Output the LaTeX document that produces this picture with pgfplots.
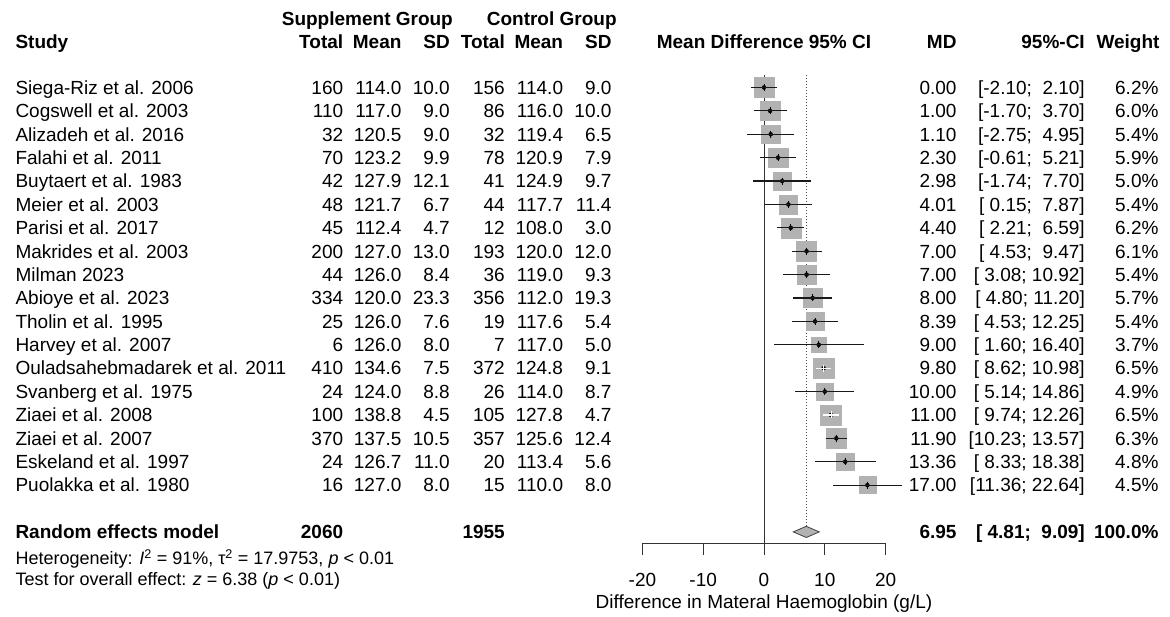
\documentclass[border=0pt]{standalone}
\usepackage{pgfplots}
\pgfplotsset{compat=1.18}
\usepackage{pgfplotstable}
\usepackage{fontspec}
\setmainfont{Liberation Sans}
\definecolor{boxgray}{RGB}{178,178,178}
\newcommand\fs{\fontsize{19}{23}\selectfont}
\newcommand\fsh{\fontsize{18}{21}\selectfont}
% text at pixel x (#2), row r (#3)
\newcommand\TR[3]{\node[anchor=base east, font=\fs] at (axis cs:{(#1-764)/6.08},{#2+0.2907}) {#3};}
\newcommand\TL[3]{\node[anchor=base west, font=\fs] at (axis cs:{(#1-764)/6.08},{#2+0.2907}) {#3};}
% text at pixel x, pixel center y
\newcommand\TP[4]{\node[anchor=#1, font=\fs] at (axis cs:{(#2-764)/6.08},{1+(#3+6.8-87.5)/23.39}) {#4};}
\newcommand\StudyRow[9]{\TL{12}{#1}{#2}\TR{346.7}{#1}{#3}\TR{405}{#1}{#4}\TR{453.3}{#1}{#5}\TR{508.3}{#1}{#6}\TR{566.6}{#1}{#7}\TR{615}{#1}{#8}\TR{960}{#1}{#9}}
\newcommand\StatRow[3]{\TR{1088.3}{#1}{#2}\TR{1162}{#1}{#3}}

\pgfplotstableread{
r md lo hi w c
1 0.00 -2.10 2.10 6.2 0
2 1.00 -1.70 3.70 6.0 0
3 1.10 -2.75 4.95 5.4 0
4 2.30 -0.61 5.21 5.9 0
5 2.98 -1.74 7.70 5.0 0
6 4.01 0.15 7.87 5.4 0
7 4.40 2.21 6.59 6.2 0
8 7.00 4.53 9.47 6.1 0
9 7.00 3.08 10.92 5.4 0
10 8.00 4.80 11.20 5.7 0
11 8.39 4.53 12.25 5.4 0
12 9.00 1.60 16.40 3.7 0
13 9.80 8.62 10.98 6.5 1
14 10.00 5.14 14.86 4.9 0
15 11.00 9.74 12.26 6.5 1
16 11.90 10.23 13.57 6.3 0
17 13.36 8.33 18.38 4.8 0
18 17.00 11.36 22.64 4.5 0
}\studies

\begin{document}
\begin{tikzpicture}[font=\fs]
\begin{axis}[
  scale only axis, width=1170pt, height=617pt,
  at={(0,0)}, anchor=south west,
  xmin=-125.6579, xmax=66.7763,
  ymin=-2.7409, ymax=23.6381, y dir=reverse,
  hide axis, clip=false, set layers,
  every node/.append style={inner sep=0pt, outer sep=0pt},
]
% reference lines
\addplot[black!80, line width=1pt] coordinates {(0,0.4656) (0,20.487)};
\addplot[black!70, line width=1pt, dash pattern=on 1pt off 2pt] coordinates {(6.95,0.4656) (6.95,19.76)};
% boxes
\addplot[scatter, only marks, mark=square*,
  scatter/use mapped color={draw=boxgray, fill=boxgray},
  visualization depends on={4*sqrt(\thisrow{w}) \as \ms},
  scatter/@pre marker code/.append style={/tikz/mark size=\ms}]
  table[x=md, y=r] {\studies};
% confidence intervals (black)
\addplot[on layer=axis foreground, only marks, mark=none,
  x filter/.expression={\thisrow{c}==0 ? x : nan},
  error bars/.cd, x dir=both, x explicit, error mark=none,
  error bar style={line width=1.2pt, black!90}]
  table[x=md, y=r, x error plus expr=\thisrow{hi}-\thisrow{md}, x error minus expr=\thisrow{md}-\thisrow{lo}] {\studies};
% confidence intervals (white, inside box)
\addplot[on layer=axis foreground, only marks, mark=none,
  x filter/.expression={\thisrow{c}==1 ? x : nan},
  error bars/.cd, x dir=both, x explicit, error mark=none,
  error bar style={line width=1.2pt, white}]
  table[x=md, y=r, x error plus expr=\thisrow{hi}-\thisrow{md}, x error minus expr=\thisrow{md}-\thisrow{lo}] {\studies};
% estimate ticks
\addplot[on layer=axis foreground, only marks, mark=|, mark size=3.5, mark options={line width=0.7pt, black},
  x filter/.expression={\thisrow{c}==0 ? x : nan}] table[x=md, y=r] {\studies};
\addplot[on layer=axis foreground, only marks, mark=|, mark size=3.5, mark options={line width=0.7pt, white},
  x filter/.expression={\thisrow{c}==1 ? x : nan}] table[x=md, y=r] {\studies};
% summary diamond
\addplot[fill=boxgray, draw=black!75, line width=0.8pt] coordinates {(4.81,20) (6.95,19.7606) (9.09,20) (6.95,20.2394)} -- cycle;
% forest x axis
\draw[black!80, line width=1pt] (axis cs:-20,20.487) -- (axis cs:20,20.487);
\pgfplotsinvokeforeach{-20,-10,0,10,20}{
  \draw[black!80, line width=1pt] (axis cs:#1,20.487) -- (axis cs:#1,20.987);
  \node[anchor=base, font=\fs] at (axis cs:#1,{1+(579.5+6.8-87.5)/23.39}) {#1};
}
\TP{base}{764}{601.5}{Difference in Materal Haemoglobin (g/L)}
% headers
\TP{base west}{278.3}{18.3}{\bfseries Supplement Group}
\TP{base west}{483.3}{18.3}{\bfseries Control Group}
\TP{base west}{12}{41.7}{\bfseries Study}
\TP{base east}{346.7}{41.7}{\bfseries Total}
\TP{base east}{405}{41.7}{\bfseries Mean}
\TP{base east}{453.3}{41.7}{\bfseries SD}
\TP{base east}{508.3}{41.7}{\bfseries Total}
\TP{base east}{566.6}{41.7}{\bfseries Mean}
\TP{base east}{615}{41.7}{\bfseries SD}
\TP{base}{764}{41.7}{\bfseries Mean Difference 95\% CI}
\TP{base east}{960}{41.7}{\bfseries MD}
\TP{base east}{1088.3}{41.7}{\bfseries 95\%-CI}
\TP{base east}{1163}{41.7}{\bfseries Weight}
% study rows
\StudyRow{1}{Siega-Riz et al. 2006}{160}{114.0}{10.0}{156}{114.0}{9.0}{0.00}\StatRow{1}{[-2.10;\ \ 2.10]}{6.2\%}
\StudyRow{2}{Cogswell et al. 2003}{110}{117.0}{9.0}{86}{116.0}{10.0}{1.00}\StatRow{2}{[-1.70;\ \ 3.70]}{6.0\%}
\StudyRow{3}{Alizadeh et al. 2016}{32}{120.5}{9.0}{32}{119.4}{6.5}{1.10}\StatRow{3}{[-2.75;\ \ 4.95]}{5.4\%}
\StudyRow{4}{Falahi et al. 2011}{70}{123.2}{9.9}{78}{120.9}{7.9}{2.30}\StatRow{4}{[-0.61;\ \ 5.21]}{5.9\%}
\StudyRow{5}{Buytaert et al. 1983}{42}{127.9}{12.1}{41}{124.9}{9.7}{2.98}\StatRow{5}{[-1.74;\ \ 7.70]}{5.0\%}
\StudyRow{6}{Meier et al. 2003}{48}{121.7}{6.7}{44}{117.7}{11.4}{4.01}\StatRow{6}{[\ 0.15;\ \ 7.87]}{5.4\%}
\StudyRow{7}{Parisi et al. 2017}{45}{112.4}{4.7}{12}{108.0}{3.0}{4.40}\StatRow{7}{[\ 2.21;\ \ 6.59]}{6.2\%}
\StudyRow{8}{Makrides et al. 2003}{200}{127.0}{13.0}{193}{120.0}{12.0}{7.00}\StatRow{8}{[\ 4.53;\ \ 9.47]}{6.1\%}
\StudyRow{9}{Milman 2023}{44}{126.0}{8.4}{36}{119.0}{9.3}{7.00}\StatRow{9}{[\ 3.08;\ 10.92]}{5.4\%}
\StudyRow{10}{Abioye et al. 2023}{334}{120.0}{23.3}{356}{112.0}{19.3}{8.00}\StatRow{10}{[\ 4.80;\ 11.20]}{5.7\%}
\StudyRow{11}{Tholin et al. 1995}{25}{126.0}{7.6}{19}{117.6}{5.4}{8.39}\StatRow{11}{[\ 4.53;\ 12.25]}{5.4\%}
\StudyRow{12}{Harvey et al. 2007}{6}{126.0}{8.0}{7}{117.0}{5.0}{9.00}\StatRow{12}{[\ 1.60;\ 16.40]}{3.7\%}
\StudyRow{13}{Ouladsahebmadarek et al. 2011}{410}{134.6}{7.5}{372}{124.8}{9.1}{9.80}\StatRow{13}{[\ 8.62;\ 10.98]}{6.5\%}
\StudyRow{14}{Svanberg et al. 1975}{24}{124.0}{8.8}{26}{114.0}{8.7}{10.00}\StatRow{14}{[\ 5.14;\ 14.86]}{4.9\%}
\StudyRow{15}{Ziaei et al. 2008}{100}{138.8}{4.5}{105}{127.8}{4.7}{11.00}\StatRow{15}{[\ 9.74;\ 12.26]}{6.5\%}
\StudyRow{16}{Ziaei et al. 2007}{370}{137.5}{10.5}{357}{125.6}{12.4}{11.90}\StatRow{16}{[10.23;\ 13.57]}{6.3\%}
\StudyRow{17}{Eskeland et al. 1997}{24}{126.7}{11.0}{20}{113.4}{5.6}{13.36}\StatRow{17}{[\ 8.33;\ 18.38]}{4.8\%}
\StudyRow{18}{Puolakka et al. 1980}{16}{127.0}{8.0}{15}{110.0}{8.0}{17.00}\StatRow{18}{[11.36;\ 22.64]}{4.5\%}
% summary row
\TL{12}{20}{\bfseries Random effects model}
\TR{346.7}{20}{\bfseries 2060}
\TR{508.3}{20}{\bfseries 1955}
\TR{960}{20}{\bfseries 6.95}
\TR{1088.3}{20}{\bfseries [\ 4.81;\ \ 9.09]}
\TR{1162}{20}{\bfseries 100.0\%}
\TP{base west}{12}{557.5}{\fsh Heterogeneity: \textit{I}\textsuperscript{2} = 91\%, τ\textsuperscript{2} = 17.9753, \textit{p} < 0.01}
\TP{base west}{12}{579}{\fsh Test for overall effect: \textit{z} = 6.38 (\textit{p} < 0.01)}
\path (rel axis cs:0,0) rectangle (rel axis cs:1,1);
\end{axis}
\end{tikzpicture}
\end{document}
